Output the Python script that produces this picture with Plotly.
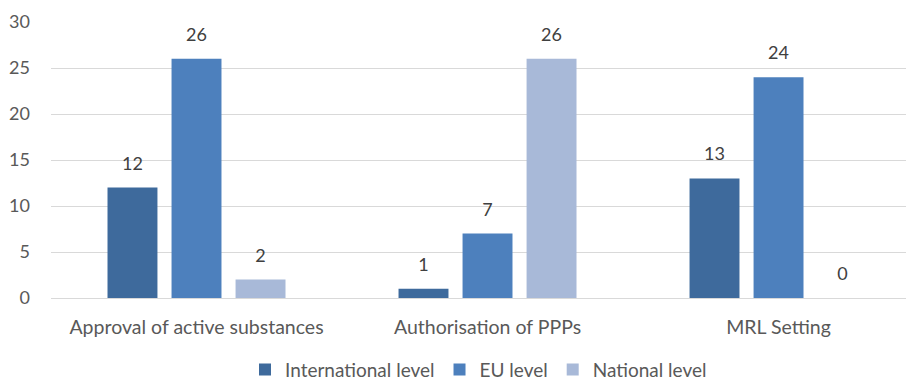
import plotly.graph_objects as go

categories = ["Approval of active substances", "Authorisation of PPPs", "MRL Setting"]
series_names = ["International level", "EU level", "National level"]
international = [12, 1, 13]
eu = [26, 7, 24]
national = [2, 26, 0]
colors = ["#3E6A9C", "#4D80BD", "#A8B9D8"]

font_family = "Lato, Open Sans, sans-serif"

fig = go.Figure()
for name, vals, col in zip(series_names, [international, eu, national], colors):
    fig.add_trace(go.Bar(
        x=categories, y=vals, name=name, offsetgroup=name,
        marker=dict(color=col, line=dict(width=0)),
    ))
# value labels: invisible markers aligned with each bar, text above
for name, vals in zip(series_names, [international, eu, national]):
    fig.add_trace(go.Scatter(
        x=categories, y=vals, name=name, offsetgroup=name, showlegend=False,
        mode="markers+text", text=[str(v) for v in vals], textposition="top center",
        marker=dict(size=20, opacity=0),
        textfont=dict(family=font_family, size=18, color="#404040"),
        cliponaxis=False, hoverinfo="skip",
    ))

fig.update_layout(
    width=908, height=383,
    margin=dict(l=51, r=2, t=22, b=85, autoexpand=False),
    paper_bgcolor="white", plot_bgcolor="white",
    barmode="group", bargap=0.34, bargroupgap=0.22,
    scattermode="group", scattergap=0.34,
    font=dict(family=font_family, size=18, color="#595959"),
    showlegend=True,
    legend=dict(orientation="h", x=0.5, xanchor="center", y=-0.26, yanchor="middle",
                font=dict(size=19, color="#595959"), itemwidth=30,
                borderwidth=0, traceorder="normal"),
)
fig.update_xaxes(range=[-0.5, 2.438], showgrid=False, showline=False, ticks="",
                 ticklabelstandoff=15,
                 tickfont=dict(size=19.5, color="#595959"))
fig.update_yaxes(range=[0, 30], dtick=5, showgrid=True, gridcolor="#D9D9D9", gridwidth=1,
                 zeroline=True, zerolinecolor="#D9D9D9", zerolinewidth=1,
                 showline=False, ticks="", ticklabelstandoff=20,
                 tickfont=dict(size=18, color="#595959"))

fig.write_html("out.html")
